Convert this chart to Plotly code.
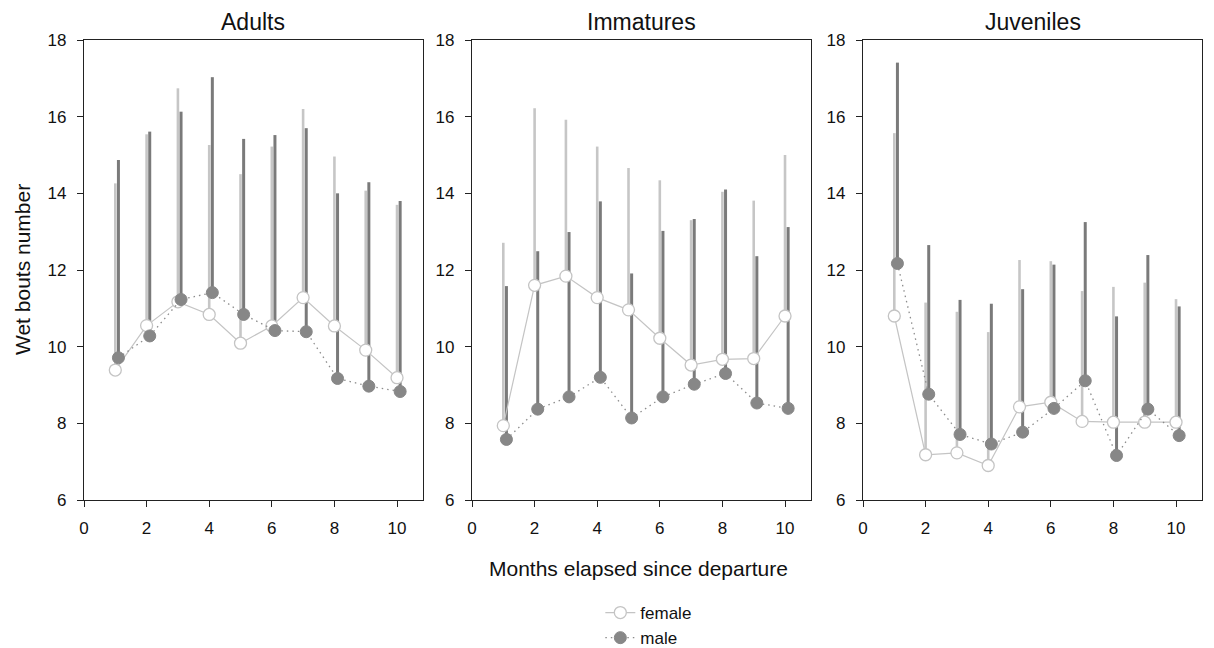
import plotly.graph_objects as go

months = [1, 2, 3, 4, 5, 6, 7, 8, 9, 10]
panels = ["Adults", "Immatures", "Juveniles"]

# Adults
adult_female_mean = [9.39, 10.55, 11.17, 10.84, 10.09, 10.54, 11.28, 10.54, 9.91, 9.19]
adult_female_upper = [14.26, 15.54, 16.74, 15.26, 14.50, 15.22, 16.20, 14.96, 14.07, 13.70]
adult_male_mean = [9.71, 10.28, 11.23, 11.41, 10.84, 10.42, 10.39, 9.17, 8.97, 8.83]
adult_male_upper = [14.87, 15.61, 16.13, 17.03, 15.42, 15.52, 15.70, 14.00, 14.29, 13.80]

# Immatures
imm_female_mean = [7.94, 11.60, 11.84, 11.28, 10.96, 10.22, 9.52, 9.67, 9.69, 10.80]
imm_female_upper = [12.71, 16.22, 15.92, 15.22, 14.66, 14.34, 13.30, 14.04, 13.81, 15.00]
imm_male_mean = [7.58, 8.37, 8.69, 9.20, 8.14, 8.69, 9.02, 9.30, 8.53, 8.39]
imm_male_upper = [11.58, 12.49, 12.99, 13.79, 11.91, 13.02, 13.33, 14.10, 12.36, 13.12]

# Juveniles
juv_female_mean = [10.80, 7.18, 7.23, 6.90, 8.43, 8.55, 8.05, 8.03, 8.03, 8.03]
juv_female_upper = [15.57, 11.15, 10.91, 10.38, 12.26, 12.23, 11.45, 11.56, 11.67, 11.24]
juv_male_mean = [12.17, 8.76, 7.71, 7.46, 7.77, 8.39, 9.11, 7.16, 8.37, 7.68]
juv_male_upper = [17.41, 12.65, 11.22, 11.12, 11.50, 12.14, 13.25, 10.79, 12.39, 11.05]

data = [
    (adult_female_mean, adult_female_upper, adult_male_mean, adult_male_upper),
    (imm_female_mean, imm_female_upper, imm_male_mean, imm_male_upper),
    (juv_female_mean, juv_female_upper, juv_male_mean, juv_male_upper),
]

x_ticks = [0, 2, 4, 6, 8, 10]
y_ticks = [6, 8, 10, 12, 14, 16, 18]

MALE_OFFSET = 0.1
FEMALE_BAR = "#c6c6c6"
FEMALE_LINE = "#c4c4c4"
MALE_BAR = "#7a7a7a"
MALE_MARK = "#878787"
MALE_LINE = "#8c8c8c"
FONT = "Liberation Sans, Arial"

x_domains = [(84 / 1214, 423 / 1214), (472 / 1214, 811 / 1214), (863 / 1214, 1202 / 1214)]
y_domain = ((648 - 500) / 648, (648 - 40) / 648)

fig = go.Figure()

for i, (fm, fu, mm, mu) in enumerate(data):
    xa = "x" if i == 0 else f"x{i+1}"
    ya = "y" if i == 0 else f"y{i+1}"
    mx = [m + MALE_OFFSET for m in months]
    f_plus = [u - m for u, m in zip(fu, fm)]
    m_plus = [u - m for u, m in zip(mu, mm)]
    fig.add_trace(go.Scatter(
        x=months, y=fm, mode="markers", xaxis=xa, yaxis=ya, showlegend=False,
        marker=dict(size=1, color="rgba(0,0,0,0)"), hoverinfo="skip",
        error_y=dict(type="data", symmetric=False, array=f_plus, arrayminus=[0] * len(fm),
                     color=FEMALE_BAR, thickness=2.6, width=0),
    ))
    fig.add_trace(go.Scatter(
        x=mx, y=mm, mode="markers", xaxis=xa, yaxis=ya, showlegend=False,
        marker=dict(size=1, color="rgba(0,0,0,0)"), hoverinfo="skip",
        error_y=dict(type="data", symmetric=False, array=m_plus, arrayminus=[0] * len(mm),
                     color=MALE_BAR, thickness=3, width=0),
    ))
    fig.add_trace(go.Scatter(
        x=months, y=fm, mode="lines+markers", xaxis=xa, yaxis=ya,
        name="female", showlegend=(i == 0), legendgroup="female",
        line=dict(color=FEMALE_LINE, width=1.2),
        marker=dict(size=12, color="white", line=dict(color=FEMALE_LINE, width=1.3)),
    ))
    fig.add_trace(go.Scatter(
        x=mx, y=mm, mode="lines+markers", xaxis=xa, yaxis=ya,
        name="male", showlegend=(i == 0), legendgroup="male",
        line=dict(color=MALE_LINE, width=1.3, dash="1.5px,4px"),
        marker=dict(size=12, color=MALE_MARK, line=dict(color=MALE_MARK, width=1)),
    ))

axis_common = dict(showline=True, linecolor="#222", linewidth=1.2, mirror=True,
                   ticks="outside", ticklen=6, tickcolor="#222", tickwidth=1.2,
                   showgrid=False, zeroline=False, automargin=False,
                   tickfont=dict(family=FONT, size=17, color="#111"))

layout = dict(
    width=1214, height=648,
    margin=dict(l=0, r=0, t=0, b=0, autoexpand=False),
    plot_bgcolor="white", paper_bgcolor="white",
    font=dict(family=FONT, color="#111"),
    legend=dict(x=0.4945, y=(648 - 595) / 648, xanchor="left", yanchor="top",
                font=dict(size=17, family=FONT, color="#111"),
                bgcolor="rgba(0,0,0,0)", tracegroupgap=0, itemwidth=30),
)
for i in range(3):
    xk = "xaxis" if i == 0 else f"xaxis{i+1}"
    yk = "yaxis" if i == 0 else f"yaxis{i+1}"
    layout[xk] = dict(domain=list(x_domains[i]), range=[0, 10.83], tickvals=x_ticks,
                      anchor="y" if i == 0 else f"y{i+1}", ticklabelstandoff=6, **axis_common)
    layout[yk] = dict(domain=list(y_domain), range=[6, 18], tickvals=y_ticks,
                      anchor="x" if i == 0 else f"x{i+1}", ticklabelstandoff=7, **axis_common)

fig.update_layout(**layout)

annotations = []
for i, name in enumerate(panels):
    cx = (x_domains[i][0] + x_domains[i][1]) / 2
    annotations.append(dict(text=name, x=cx, y=(648 - 22) / 648, xref="paper", yref="paper",
                            showarrow=False, xanchor="center", yanchor="middle",
                            font=dict(size=23, family=FONT, color="#111")))
annotations.append(dict(text="Wet bouts number", x=22 / 1214, y=(648 - 270) / 648,
                        xref="paper", yref="paper", showarrow=False, textangle=-90,
                        xanchor="center", yanchor="middle",
                        font=dict(size=21, family=FONT, color="#111")))
annotations.append(dict(text="Months elapsed since departure", x=638 / 1214, y=(648 - 568) / 648,
                        xref="paper", yref="paper", showarrow=False,
                        xanchor="center", yanchor="middle",
                        font=dict(size=21, family=FONT, color="#111")))
fig.update_layout(annotations=annotations)

fig.write_html("out.html")
